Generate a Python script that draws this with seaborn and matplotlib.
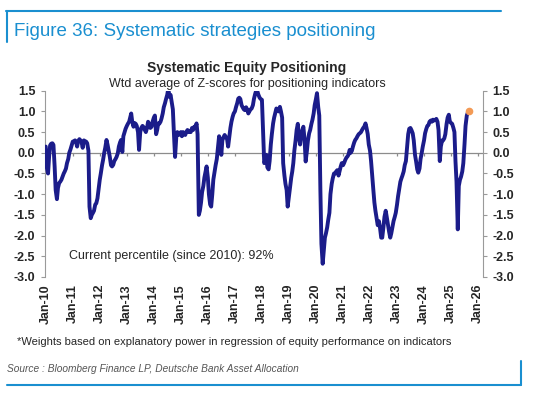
import pandas as pd
import numpy as np
import matplotlib
matplotlib.use("Agg")
import matplotlib.pyplot as plt
import seaborn as sns

# Semi-monthly readings (1st and 15th of each month)
v2010 = [0.15, -0.35, -0.5, -0.1, 0.18, 0.22, 0.23, 0.19, -0.33, -0.9, -1.12, -0.85,
         -0.73, -0.7, -0.65, -0.58, -0.5, -0.45, -0.38, -0.25, -0.15, 0.0, 0.08, 0.17]
v2011 = [0.27, 0.28, 0.3, 0.25, 0.15, 0.28, 0.33, 0.3, 0.25, 0.12, 0.3, 0.28,
         0.27, 0.23, 0.05, -1.3, -1.58, -1.5, -1.45, -1.4, -1.25, -1.22, -1.1, -0.9]
v2012 = [-0.65, -0.5, -0.3, -0.17, 0.0, 0.12, 0.31, 0.2, 0.05, -0.09, -0.3, -0.33,
         -0.29, -0.2, -0.15, -0.1, -0.01, 0.15, 0.25, 0.31, 0.02, 0.4, 0.5, 0.58]
v2013 = [0.65, 0.7, 0.75, 0.85, 0.95, 0.75, 0.63, 0.72, 0.7, 0.65, 0.5, 0.07,
         0.5, 0.6, 0.65, 0.62, 0.55, 0.5, 0.6, 0.75, 0.68, 0.6, 0.63, 0.75]
v2014 = [0.85, 0.9, 0.45, 0.55, 0.71, 0.7, 0.75, 0.83, 0.95, 1.1, 1.2, 1.3,
         1.4, 1.55, 1.35, 1.4, 1.2, 1.05, 0.4, -0.1, 0.4, 0.5, 0.43, 0.47]
v2015 = [0.5, 0.4, 0.5, 0.45, 0.43, 0.5, 0.55, 0.5, 0.52, 0.5, 0.6, 0.55,
         0.63, 0.6, 0.71, 0.45, -1.5, -1.4, -1.2, -0.95, -0.8, -0.6, -0.45, -0.33]
v2016 = [-0.6, -1.0, -1.25, -1.3, -1.0, -0.65, -0.45, -0.3, -0.15, 0.1, 0.4, 0.3,
         -0.05, 0.3, 0.38, 0.43, 0.38, 0.35, 0.15, 0.35, 0.6, 0.75, 0.87, 0.95]
v2017 = [1.0, 1.1, 1.2, 1.31, 1.33, 1.3, 1.15, 1.1, 1.05, 1.03, 1.1, 1.05,
         0.95, 1.0, 1.05, 1.07, 1.15, 1.3, 1.42, 1.5, 1.48, 1.4, 1.33, 1.3]
v2018 = [1.28, 0.6, -0.25, -0.2, -0.05, -0.35, -0.4, -0.2, 0.2, 0.45, 0.71, 0.85,
         0.97, 1.07, 1.03, 1.0, 1.11, 1.0, 0.85, -0.25, -0.55, -0.75, -0.9, -1.3]
v2019 = [-1.06, -0.85, -0.6, -0.45, -0.25, 0.05, 0.3, 0.55, 0.7, 0.39, 0.2, 0.4,
         0.55, 0.63, 0.3, -0.21, 0.05, 0.3, 0.47, 0.55, 0.7, 0.8, 0.95, 1.15]
v2020 = [1.3, 1.44, 1.1, 0.9, -0.9, -2.2, -2.68, -2.4, -2.05, -1.95, -1.8, -1.62,
         -1.45, -1.0, -0.75, -0.62, -0.5, -0.5, -0.45, -0.42, -0.55, -0.45, -0.33, -0.25]
v2021 = [-0.3, -0.25, -0.17, -0.12, -0.09, -0.05, 0.07, 0.0, 0.05, 0.15, 0.25, 0.31,
         0.35, 0.4, 0.45, 0.47, 0.5, 0.55, 0.6, 0.63, 0.71, 0.6, 0.45, 0.2]
v2022 = [0.05, -0.2, -0.6, -0.9, -1.2, -1.4, -1.6, -1.75, -1.65, -1.8, -2.05, -2.05,
         -1.8, -1.55, -1.4, -1.55, -1.75, -1.9, -2.05, -1.95, -1.78, -1.65, -1.55, -1.45]
v2023 = [-1.25, -1.05, -0.85, -0.7, -0.62, -0.55, -0.45, -0.3, -0.2, 0.1, 0.45, 0.58,
         0.6, 0.55, 0.47, 0.3, -0.05, -0.2, -0.4, -0.48, -0.38, -0.15, 0.0, 0.15]
v2024 = [0.3, 0.47, 0.58, 0.65, 0.67, 0.75, 0.78, 0.75, 0.8, 0.78, 0.79, 0.82,
         0.75, 0.55, -0.2, 0.15, 0.3, 0.3, 0.35, 0.45, 0.7, 0.85, 0.92, 0.75]
v2025 = [0.72, 0.7, 0.6, 0.5, -0.2, -0.7, -1.85, -0.8, -0.65, -0.58, -0.45, -0.25,
         0.2, 0.65, 0.9, 0.97, 1.0]

yticks = [1.5, 1.0, 0.5, 0.0, -0.5, -1.0, -1.5, -2.0, -2.5, -3.0]
year_labels = [f"Jan-{y % 100:02d}" for y in range(2010, 2027)]

values = v2010 + v2011 + v2012 + v2013 + v2014 + v2015 + v2016 + v2017 + \
    v2018 + v2019 + v2020 + v2021 + v2022 + v2023 + v2024 + v2025
df = pd.DataFrame({"date": pd.date_range("2010-01-01", periods=len(values), freq="SMS"),
                   "z": values})

sns.set_style("white")
plt.rcParams["font.family"] = ["Liberation Sans", "DejaVu Sans"]

fig = plt.figure(figsize=(5.43, 3.94), dpi=100)
ax = fig.add_axes([0.0829, 0.297, 0.8066, 0.4728])

navy = "#1b1c8a"
sns.lineplot(data=df, x="date", y="z", ax=ax, color=navy, lw=2.8, zorder=3)
ax.plot(df["date"].iloc[-1], df["z"].iloc[-1], "o", color="#f39a55", ms=4.5, zorder=4)

ax.set_ylim(-3.0, 1.5)
ax.set_xlim(pd.Timestamp("2009-12-22"), pd.Timestamp("2026-03-08"))
ax.set_yticks(yticks)
ax.set_yticklabels([f"{t:.1f}" for t in yticks], fontsize=9, fontweight="bold")
ticks = pd.to_datetime([f"{y}-01-01" for y in range(2010, 2027)])
ax.set_xticks(ticks)
ax.set_xticklabels(year_labels, rotation=90, fontsize=9, fontweight="bold")
ax.tick_params(axis="x", length=0, pad=5)
ax.tick_params(axis="y", length=3, width=0.8, color="#9a9a9a", direction="out",
               left=True, pad=4)
ax.set_xlabel("")
ax.set_ylabel("")

for s in ["top", "bottom"]:
    ax.spines[s].set_visible(False)
ax.spines["left"].set_color("#9a9a9a")
ax.spines["right"].set_visible(False)

# zero axis with hanging tick marks
ax.axhline(0, color="#8c8c8c", lw=0.9, zorder=1)
ax.vlines(ticks, -0.08, 0, color="#8c8c8c", lw=0.9, zorder=1)

# mirrored right axis
ax2 = ax.twinx()
ax2.set_ylim(-3.0, 1.5)
ax2.set_yticks(yticks)
ax2.set_yticklabels([f"{t:.1f}" for t in yticks], fontsize=9, fontweight="bold")
ax2.tick_params(axis="y", length=3, width=0.8, color="#9a9a9a", right=True, pad=4)
for s in ["top", "bottom", "left"]:
    ax2.spines[s].set_visible(False)
ax2.spines["right"].set_color("#9a9a9a")
ax2.grid(False)
ax.grid(False)

fig.text(0.455, 0.828, "Systematic Equity Positioning", ha="center", va="center",
         fontsize=10, fontweight="bold")
fig.text(0.455, 0.787, "Wtd average of Z-scores for positioning indicators", ha="center",
         va="center", fontsize=9)
ax.text(pd.Timestamp("2010-11-15"), -2.5, "Current percentile (since 2010): 92%",
        fontsize=9, va="center")

blue = "#1a8fd0"
fig.text(0.026, 0.921, "Figure 36: Systematic strategies positioning", fontsize=13.5,
         color=blue, va="center")
fig.add_artist(plt.Line2D([0.011, 0.922], [0.972, 0.972], color=blue, lw=1.5))
fig.add_artist(plt.Line2D([0.012, 0.012], [0.972, 0.893], color=blue, lw=1.5))
fig.text(0.031, 0.132, "*Weights based on explanatory power in regression of equity performance on indicators",
         fontsize=8, va="center")
fig.text(0.013, 0.063, "Source : Bloomberg Finance LP, Deutsche Bank Asset Allocation",
         fontsize=7.3, style="italic", color="#555555", va="center")
fig.add_artist(plt.Line2D([0.013, 0.96], [0.023, 0.023], color=blue, lw=1.5))
fig.add_artist(plt.Line2D([0.959, 0.959], [0.023, 0.083], color=blue, lw=1.5))

fig.savefig("out.png", dpi=100)
